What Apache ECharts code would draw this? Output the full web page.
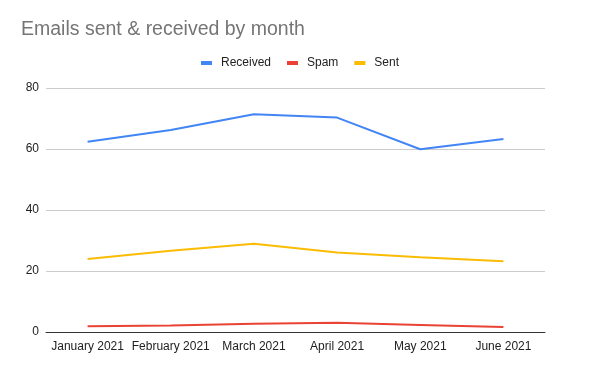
<!DOCTYPE html>
<html><head><meta charset="utf-8">
<script src="https://cdn.jsdelivr.net/npm/echarts@6/dist/echarts.min.js"></script>
<style>html,body{margin:0;padding:0;background:#fff}#c{width:600px;height:371px}</style>
</head><body><div id="c"></div>
<script>
const categories = ['January 2021','February 2021','March 2021','April 2021','May 2021','June 2021'];
const received = [62.4, 66.2, 71.4, 70.3, 59.9, 63.3];
const spam = [1.9, 2.1, 2.7, 3.0, 2.3, 1.6];
const sent = [23.9, 26.6, 28.9, 26.1, 24.5, 23.2];
const yTicks = [0, 20, 40, 60, 80];

const chart = echarts.init(document.getElementById('c'), null, {renderer:'canvas'});
const font = 'Arial, "Liberation Sans", sans-serif';
function line(name, data, color){
  return {name, type:'line', data, symbol:'none', smooth:false,
    lineStyle:{color, width:2}, itemStyle:{color}};
}
chart.setOption({
  animation:false,
  title:{text:'Emails sent & received by month', left:16, top:15,
    textStyle:{fontFamily:font, fontSize:19.5, fontWeight:'normal', color:'#757575'}},
  legend:{top:52, left:'center', itemWidth:11, itemHeight:4, itemGap:16, icon:'rect',
    textStyle:{fontFamily:font, fontSize:12, color:'#222', padding:[0,0,0,4]}},
  grid:{left:46, right:55, top:88, bottom:39, containLabel:false},
  xAxis:{type:'category', data:categories, boundaryGap:true,
    axisLine:{lineStyle:{color:'#333', width:1}}, axisTick:{show:false},
    axisLabel:{fontFamily:font, fontSize:12, color:'#222', margin:9, interval:0}},
  yAxis:{type:'value', min:yTicks[0], max:yTicks[yTicks.length-1], interval:20,
    axisLine:{show:false}, axisTick:{show:false},
    axisLabel:{fontFamily:font, fontSize:12, color:'#222', margin:7},
    splitLine:{lineStyle:{color:'#ccc', width:1}}},
  series:[line('Received', received, '#4285F4'), line('Spam', spam, '#EA4335'), line('Sent', sent, '#FBBC04')]
});
</script></body></html>
